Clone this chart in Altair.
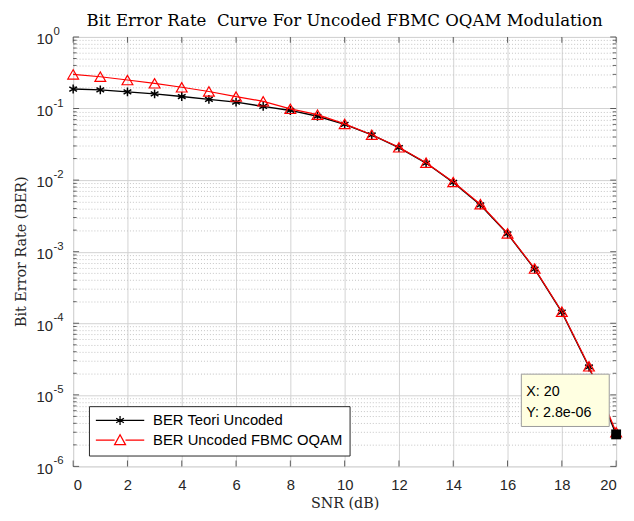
import altair as alt
import pandas as pd

# ---- data ----
snr = list(range(21))
ber_teori = [0.187, 0.182, 0.171, 0.160, 0.147, 0.134, 0.123, 0.107, 0.094, 0.078,
             0.060, 0.0427, 0.0285, 0.0173, 0.0093, 0.0045, 0.00178, 5.7e-4, 1.43e-4,
             2.45e-5, 2.8e-6]
ber_fbmc = [0.300, 0.278, 0.250, 0.225, 0.198, 0.173, 0.147, 0.126, 0.099, 0.082,
            0.061, 0.0430, 0.0287, 0.0175, 0.0094, 0.0046, 0.00180, 5.8e-4, 1.45e-4,
            2.5e-5, 3.0e-6]
series_names = ["BER Teori Uncoded", "BER Uncoded FBMC OQAM"]
series_colors = ["#000000", "#ff0000"]
tip_x = 20
tip_y = 2.8e-6
x_ticks = list(range(0, 21, 2))
y_exponents = [-6, -5, -4, -3, -2, -1, 0]
title_text = "Bit Error Rate\u00a0 Curve For Uncoded FBMC OQAM Modulation"
x_title = "SNR (dB)"
y_title = "Bit Error Rate (BER)"
x_min, x_max = 0, 20

df = pd.DataFrame({
    "snr": snr * 2,
    "ber": ber_teori + ber_fbmc,
    "series": [series_names[0]] * len(snr) + [series_names[1]] * len(snr),
})
tip_df = pd.DataFrame({"snr": [tip_x], "ber": [tip_y]})

# tick positions
y_major = [10.0 ** e for e in y_exponents]
y_minor = [m * 10.0 ** e for e in y_exponents[:-1] for m in range(2, 10)]
y_vals = sorted(y_major + y_minor)
exp_df = pd.DataFrame({"snr": [x_min] * len(y_exponents), "ber": y_major,
                       "lab": [str(e) for e in y_exponents]})

lg = "log(datum.value)/LN10"
major_test = f"abs({lg} - round({lg})) < 0.001"

grid_major = "#d2d2d2"
grid_minor = "#c4c4c4"
axis_col = "#262626"

x_axis = alt.Axis(values=x_ticks, grid=True, gridColor=grid_major, gridWidth=1,
                  tickSize=0, domain=False, labelFont="Liberation Sans", labelFontSize=15,
                  labelColor=axis_col, labelPadding=11, title=x_title,
                  titleFont="DejaVu Serif", titleFontSize=14.5, titleFontWeight="normal",
                  titleColor=axis_col, titleY=38, titleBaseline="middle")
y_axis = alt.Axis(values=y_vals, labelExpr=f"({major_test}) ? '10' : ''", grid=True,
                  gridDash={"condition": {"test": major_test, "value": []}, "value": [1, 2]},
                  gridColor={"condition": {"test": major_test, "value": grid_major}, "value": grid_minor},
                  tickSize=0, domain=False, labelFont="Liberation Sans", labelFontSize=15,
                  labelColor=axis_col, labelPadding=21, labelBaseline="middle", labelOffset=2,
                  title=y_title, titleFont="DejaVu Serif", titleFontSize=14.5,
                  titleFontWeight="normal", titleColor=axis_col, titleX=-52, titleY=217,
                  titleAngle=270, titleAlign="center", titleBaseline="middle")

X = alt.X("snr:Q", scale=alt.Scale(domain=[x_min, x_max], nice=False, zero=False), axis=x_axis)
Y = alt.Y("ber:Q", scale=alt.Scale(type="log", domain=[y_major[0], y_major[-1]], nice=False),
          axis=y_axis)

base = alt.Chart(df)

asterisk = "M0,-0.9L0,0.9M-0.78,-0.45L0.78,0.45M-0.78,0.45L0.78,-0.45"

line_teori = base.transform_filter(alt.datum.series == series_names[0]).mark_line(
    color=series_colors[0], strokeWidth=1.4).encode(x=X, y=Y)
pts_teori = base.transform_filter(alt.datum.series == series_names[0]).mark_point(
    shape=asterisk, size=100, filled=False, color=series_colors[0], strokeWidth=1.5,
    opacity=1).encode(x=X, y=Y)
line_fbmc = base.transform_filter(alt.datum.series == series_names[1]).mark_line(
    color=series_colors[1], strokeWidth=1.2).encode(x=X, y=Y)
pts_fbmc = base.transform_filter(alt.datum.series == series_names[1]).mark_point(
    shape="triangle-up", size=120, filled=False, color=series_colors[1], strokeWidth=1.2,
    opacity=1).encode(x=X, y=Y)

# legend symbols: line segment with the marker on it
leg_shapes = [
    "M-4.9,0H4.9M0,-0.9L0,0.9M-0.78,-0.45L0.78,0.45M-0.78,0.45L0.78,-0.45",
    "M-4.9,0H-1.1M1.1,0H4.9M0,-1.1L1.1,0.9L-1.1,0.9Z",
]
legend = alt.Legend(title=None, orient="none", legendX=16, legendY=374,
                    direction="vertical", fillColor="white", strokeColor=axis_col,
                    padding=7, labelFont="Liberation Sans", labelFontSize=15,
                    labelColor="#000000", labelLimit=400, symbolSize=100,
                    symbolStrokeWidth=1.3, symbolOffset=17, labelOffset=26, rowPadding=3)
legend_layer = base.mark_point(opacity=0, filled=False).encode(
    x=X, y=Y,
    color=alt.Color("series:N", scale=alt.Scale(domain=series_names, range=series_colors),
                    legend=legend),
    shape=alt.Shape("series:N", scale=alt.Scale(domain=series_names, range=leg_shapes),
                    legend=legend),
)

# exponent part of the y tick labels (10^e)
exp_text = alt.Chart(exp_df).mark_text(align="left", baseline="middle", dx=-20, dy=-5,
                                       font="Liberation Sans", fontSize=11.5,
                                       color=axis_col).encode(x=X, y=Y, text="lab:N")

# inward ticks on all four sides
def yticks(vals, at, length, sign):
    d = pd.DataFrame({"snr": [at] * len(vals), "ber": vals})
    return alt.Chart(d).mark_tick(orient="horizontal", size=length, thickness=1,
                                  color=axis_col, xOffset=sign * length / 2).encode(x=X, y=Y)

def xticks(vals, at, length, sign):
    d = pd.DataFrame({"snr": vals, "ber": [at] * len(vals)})
    return alt.Chart(d).mark_tick(orient="vertical", size=length, thickness=1,
                                  color=axis_col, yOffset=sign * length / 2).encode(x=X, y=Y)

tick_layers = [
    yticks(y_major, x_min, 6, 1), yticks(y_minor, x_min, 3.5, 1),
    yticks(y_major, x_max, 6, -1), yticks(y_minor, x_max, 3.5, -1),
    xticks(x_ticks, y_major[0], 6, -1), xticks(x_ticks, y_major[-1], 6, 1),
]

tip = alt.Chart(tip_df)
tip_box = tip.mark_point(shape="M-1.68,-1H1.68V1H-1.68Z", size=2809, filled=True,
                         fill="#ffffe1", stroke="#9a9a9a", strokeWidth=1, opacity=1,
                         xOffset=-51.5, yOffset=-34.5).encode(x=X, y=Y)
tip_marker = tip.mark_square(size=100, color="#000000", opacity=1).encode(x=X, y=Y)
tip_text = tip.mark_text(align="left", baseline="middle", dx=-91, dy=-43, lineHeight=21,
                         font="Liberation Sans", fontSize=14.5, color="#000000").encode(
    x=X, y=Y, text=alt.value([f"X: {tip_x}", f"Y: {tip_y:.1e}"]))

chart = alt.layer(
    legend_layer, *tick_layers, exp_text, line_teori, pts_teori, line_fbmc, pts_fbmc,
    tip_box, tip_marker, tip_text
).properties(
    width=550, height=435,
    title=alt.TitleParams(title_text, font="DejaVu Serif", fontSize=16.8,
                          fontWeight="normal", color="#000000", offset=5, dy=9),
    autosize=alt.AutoSizeParams(type="none"),
    padding={"left": 66, "top": 26, "right": 10, "bottom": 52},
).configure_view(stroke=axis_col, strokeWidth=1).configure(background="white")

chart.save("out.html", embed_options={"renderer": "svg", "actions": False})
